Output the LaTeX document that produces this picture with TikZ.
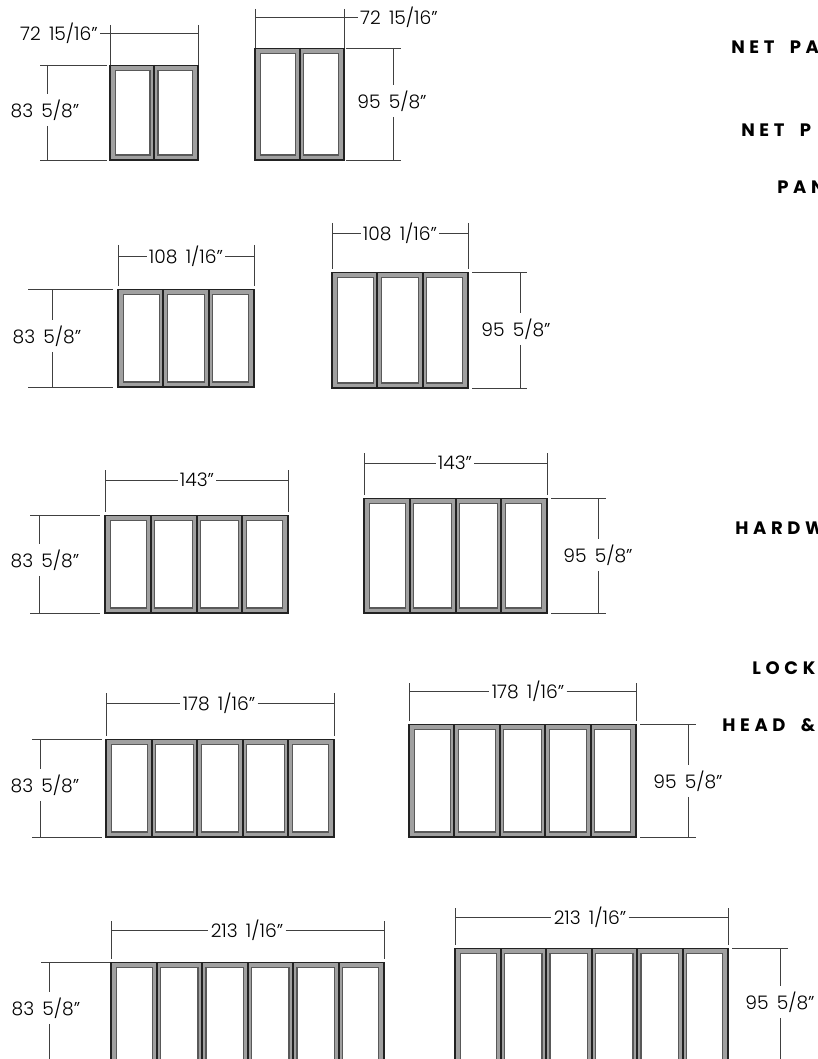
\documentclass[tikz,border=0pt]{standalone}
\usepackage{fontspec}
\setmainfont{Poppins}[UprightFont=* Light,WordSpace=1.6]
\newfontfamily\headfont[LetterSpace=26,WordSpace=1.8]{Poppins}
\usetikzlibrary{positioning,calc}
\definecolor{framegray}{HTML}{A0A0A0}
\definecolor{framedark}{HTML}{222222}
\tikzset{
    frameline/.style={draw=framedark,line width=1.8pt},
    glassbox/.style={draw=black!65,fill=white,line width=0.9pt},
    dimline/.style={draw=black!75,line width=0.6pt},
    dimlabel/.style={inner sep=1.5pt,font=\fontsize{14}{16}\selectfont},
    headlabel/.style={anchor=west,inner sep=0pt,font=\headfont\bfseries\fontsize{13.5}{15}\selectfont},
}
% door: name, x0, y0, x1, y1, panels
\newcommand{\doorunit}[6]{
    \coordinate (#1-nw) at (#2,#3);
    \coordinate (#1-se) at (#4,#5);
    \coordinate (#1-ne) at (#4,#3);
    \coordinate (#1-sw) at (#2,#5);
    \fill[framegray] (#1-nw) rectangle (#1-se);
    \pgfmathsetmacro{\panelw}{(#4-#2)/#6}
    \foreach \i in {1,...,#6}{
        \pgfmathsetmacro{\gl}{#2+(\i-1)*\panelw+(\i==1?5.5:4)}
        \pgfmathsetmacro{\gr}{#2+\i*\panelw-(\i==#6?5.5:4)}
        \draw[glassbox] (\gl,#3+5.5) rectangle (\gr,#5-5);
        \ifnum\i<#6
            \pgfmathsetmacro{\gs}{#2+\i*\panelw}
            \draw[framedark,line width=1.5pt] (\gs,#3) -- (\gs,#5);
        \fi
    }
    \draw[framedark,line width=0.7pt] (#1-nw) -- (#1-ne);
    \draw[frameline] (#1-nw) -- (#1-sw) -- (#1-se) -- (#1-ne);
}
% width dimension: name, line y, tick top, label x, text
\newcommand{\widthdim}[5]{
    \coordinate (#1-wl) at (#1-nw |- 0,#2);
    \coordinate (#1-wr) at (#1-ne |- 0,#2);
    \node[dimlabel] (#1-wlabel) at (#4,#2) {#5};
    \draw[dimline] (#1-nw |- 0,#3) -- ($(#1-nw)+(0,-3)$);
    \draw[dimline] (#1-ne |- 0,#3) -- ($(#1-ne)+(0,-3)$);
    \draw[dimline] (#1-wl) -- (#1-wlabel.west);
    \draw[dimline] (#1-wlabel.east) -- (#1-wr);
}
% height dimension: name, tick start, tick end, line x, label x, label y, text
\newcommand{\heightdim}[7]{
    \node[dimlabel,minimum height=31pt*0.75] (#1-hlabel) at (#5,#6) {#7};
    \coordinate (#1-ht) at (#4,0 |- #1-nw);
    \coordinate (#1-hb) at (#4,0 |- #1-se);
    \draw[dimline] (#2,0 |- #1-nw) -- (#3,0 |- #1-nw);
    \draw[dimline] (#2,0 |- #1-se) -- (#3,0 |- #1-se);
    \draw[dimline] (#1-ht) -- (#1-ht |- #1-hlabel.north);
    \draw[dimline] (#1-hb |- #1-hlabel.south) -- (#1-hb);
}
\begin{document}
\begin{tikzpicture}[x=0.75pt,y=-0.75pt]
    \useasboundingbox (0,0) rectangle (817,1059);
    \clip (0,0) rectangle (817,1059);
    \fill[white] (0,0) rectangle (817,1059);

    % row 1
    \doorunit{doora}{110}{65}{198}{160}{2}
    \node[dimlabel] (doora-wlabel) at (59,33) {72 15/16”};
    \coordinate (doora-wr) at (198,33);
    \draw[dimline] (doora-wlabel.east) -- (doora-wr);
    \draw[dimline] (110,25) -- (doora-nw);
    \draw[dimline] (198,25) -- (doora-ne);
    \heightdim{doora}{40}{107}{47}{45}{110}{83 5/8”}
    \doorunit{doorb}{255}{48}{344}{160}{2}
    \node[dimlabel] (doorb-wlabel) at (399,17) {72 15/16”};
    \coordinate (doorb-wl) at (255,17);
    \draw[dimline] (doorb-wl) -- (doorb-wlabel.west);
    \draw[dimline] (255,9) -- (doorb-nw);
    \draw[dimline] (344,9) -- (doorb-ne);
    \heightdim{doorb}{346}{401}{393}{392}{101}{95 5/8”}

    % row 2
    \doorunit{doorc}{118}{289}{254}{387}{3}
    \widthdim{doorc}{256}{245}{186}{108 1/16”}
    \heightdim{doorc}{28}{113}{52}{47}{336}{83 5/8”}
    \doorunit{doord}{332}{272}{468}{388}{3}
    \widthdim{doord}{233}{223}{400}{108 1/16”}
    \heightdim{doord}{472}{527}{520}{516}{329}{95 5/8”}

    % row 3
    \doorunit{doore}{105}{515}{288}{613}{4}
    \widthdim{doore}{480}{470}{197}{143”}
    \heightdim{doore}{30}{100}{39}{45}{560}{83 5/8”}
    \doorunit{doorf}{364}{498}{547}{613}{4}
    \widthdim{doorf}{463}{453}{455}{143”}
    \heightdim{doorf}{551}{606}{598}{598}{555}{95 5/8”}

    % row 4
    \doorunit{doorg}{106}{739}{334}{837}{5}
    \widthdim{doorg}{703}{693}{219}{178 1/16”}
    \heightdim{doorg}{32}{102}{40}{45}{785}{83 5/8”}
    \doorunit{doorh}{409}{724}{636}{837}{5}
    \widthdim{doorh}{691}{683}{528}{178 1/16”}
    \heightdim{doorh}{640}{696}{688}{688}{781}{95 5/8”}

    % row 5, runs off the page
    \doorunit{doori}{111}{962}{384}{1070}{6}
    \widthdim{doori}{930}{921}{247}{213 1/16”}
    \heightdim{doori}{41}{110}{49}{46}{1008}{83 5/8”}
    \doorunit{doorj}{455}{948}{728}{1070}{6}
    \widthdim{doorj}{917}{908}{590}{213 1/16”}
    \heightdim{doorj}{732}{788}{780}{780}{1002}{95 5/8”}

    % headings cut by the page edge
    \node[headlabel] (neta) at (731,47) {NET PA};
    \node[headlabel] (netb) at (741,130) {NET P};
    \node[headlabel] (pan) at (777,187) {PAN};
    \node[headlabel] (hardw) at (735,528) {HARDW};
    \node[headlabel] (lock) at (752,668) {LOCK};
    \node[headlabel] (head) at (722,725) {HEAD \&};
\end{tikzpicture}
\end{document}
